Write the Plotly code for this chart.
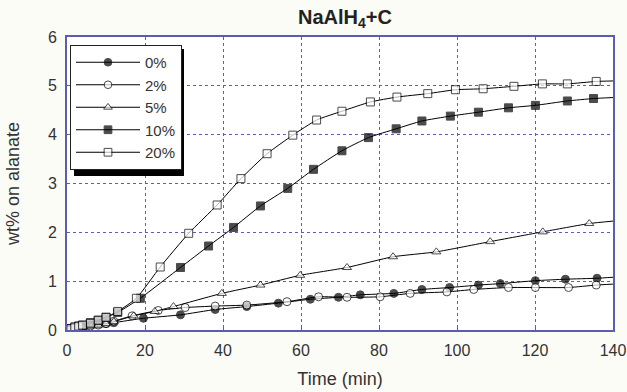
import plotly.graph_objects as go

# ---- data ----
t_20 = [0, 1, 2, 3, 4, 6, 8, 10, 13, 17.8, 23.9, 31.2, 38.5, 44.6, 51.3, 57.9, 64, 70.5, 77.8, 84.6, 92.5, 99.6, 106.7, 114.6, 121.9, 128.3, 135.7, 140]
w_20 = [0, 0.03, 0.06, 0.08, 0.1, 0.14, 0.2, 0.26, 0.38, 0.65, 1.29, 1.98, 2.56, 3.10, 3.61, 3.99, 4.30, 4.48, 4.67, 4.77, 4.84, 4.92, 4.94, 4.99, 5.04, 5.04, 5.09, 5.10]

t_10 = [0, 1, 2, 3, 4, 6, 8, 10, 13, 18.8, 29.1, 36.3, 42.7, 49.6, 56.6, 63.2, 70.5, 77.3, 84.4, 91, 98.3, 105.5, 113.2, 120.1, 128.3, 135, 140]
w_10 = [0, 0.03, 0.06, 0.08, 0.1, 0.15, 0.2, 0.26, 0.36, 0.65, 1.28, 1.72, 2.10, 2.54, 2.90, 3.29, 3.67, 3.94, 4.12, 4.28, 4.38, 4.46, 4.55, 4.60, 4.69, 4.74, 4.76]

t_5 = [0, 2, 4, 6, 8, 10, 12, 17.1, 22.5, 27.3, 39.7, 49.6, 59.8, 71.8, 83.6, 94.7, 108.5, 122, 133.9, 140]
w_5 = [0, 0.03, 0.05, 0.08, 0.1, 0.13, 0.17, 0.29, 0.38, 0.48, 0.75, 0.92, 1.12, 1.28, 1.50, 1.60, 1.81, 2.01, 2.18, 2.23]

t_2 = [0, 2, 4, 6, 8, 10, 12, 16.7, 23.4, 30.3, 38, 46.1, 56.4, 64.5, 71.8, 80.3, 88, 97.4, 104.3, 113.2, 120.1, 128.6, 135.7, 140]
w_2 = [0, 0.03, 0.06, 0.08, 0.1, 0.13, 0.18, 0.29, 0.40, 0.46, 0.49, 0.51, 0.58, 0.68, 0.67, 0.68, 0.75, 0.78, 0.83, 0.87, 0.87, 0.87, 0.92, 0.94]

t_0 = [0, 1, 2, 3, 4, 6, 8, 10, 12, 19.6, 29.1, 38, 46.1, 54.2, 62.4, 69.6, 75.2, 83.8, 91, 98.1, 105.5, 111.1, 120.1, 127.8, 135.9, 140]
w_0 = [0, 0.02, 0.04, 0.06, 0.08, 0.1, 0.12, 0.13, 0.15, 0.24, 0.31, 0.42, 0.48, 0.55, 0.63, 0.67, 0.72, 0.75, 0.83, 0.87, 0.92, 0.95, 1.01, 1.04, 1.06, 1.08]

x_ticks = [0, 20, 40, 60, 80, 100, 120, 140]
y_ticks = [0, 1, 2, 3, 4, 5, 6]

series = [
    ("0%", t_0, w_0, "circle", "black"),
    ("2%", t_2, w_2, "circle", "white"),
    ("5%", t_5, w_5, "triangle-up", "white"),
    ("10%", t_10, w_10, "square", "black"),
    ("20%", t_20, w_20, "square", "white"),
]

fig = go.Figure()
for name, t, w, sym, fill in series:
    sizes = [8] * (len(t) - 1) + [0]
    fig.add_trace(go.Scatter(
        x=t, y=w, name=name, mode="lines+markers",
        line=dict(color="black", width=1, shape="spline", smoothing=0.5),
        marker=dict(symbol=sym, size=sizes, color=fill,
                    line=dict(color="black", width=1)),
    ))

FONT = "Liberation Sans, Arial"
frame = "#5c5cb0"
grid = "#5a5ac8"
axis_common = dict(
    showline=True, linecolor=frame, linewidth=2, mirror=True,
    showgrid=True, gridcolor=grid, griddash="dot", gridwidth=1,
    zeroline=False, ticks="inside", ticklen=3, tickcolor=frame,
    automargin=False, ticklabelstandoff=5,
    tickfont=dict(family=FONT, size=16, color="#333333"),
)

PW, PH = 546, 293
LX, LY = 3, 8          # legend offset from plot corner, px
LW, LH = 111, 127      # approx legend box size, px

fig.update_layout(
    width=627, height=392,
    margin=dict(l=67, r=14, t=37, b=62, autoexpand=False),
    paper_bgcolor="#fcfcf6", plot_bgcolor="white",
    title=dict(text="<b>NaAlH<sub>4</sub>+C</b>", x=345 / 627, xanchor="center",
               y=1 - 17 / 392, yanchor="middle",
               font=dict(family=FONT, size=20, color="#222222")),
    xaxis=dict(range=[0, 140], tickvals=x_ticks, **axis_common,
               title=dict(text="Time (min)", standoff=14,
                          font=dict(family=FONT, size=18, color="#333333"))),
    yaxis=dict(range=[0, 6], tickvals=y_ticks, **axis_common,
               title=dict(text="wt% on alanate", standoff=24,
                          font=dict(family=FONT, size=18, color="#333333"))),
    legend=dict(x=LX / PW, y=1 - LY / PH, xanchor="left", yanchor="top",
                bgcolor="white", bordercolor="#222222", borderwidth=1,
                font=dict(family=FONT, size=15, color="#333333"),
                tracegroupgap=0, itemwidth=64),
    showlegend=True,
)

# drop shadow behind the legend box
fig.add_shape(type="rect", xref="paper", yref="paper",
              x0=(LX + 4) / PW, x1=(LX + LW + 3) / PW,
              y0=1 - (LY + LH + 4) / PH, y1=1 - (LY + 4) / PH,
              fillcolor="black", line=dict(width=0), layer="above")

fig.write_html("out.html", config={"displayModeBar": False},
               post_script="document.body.style.margin='0';")
